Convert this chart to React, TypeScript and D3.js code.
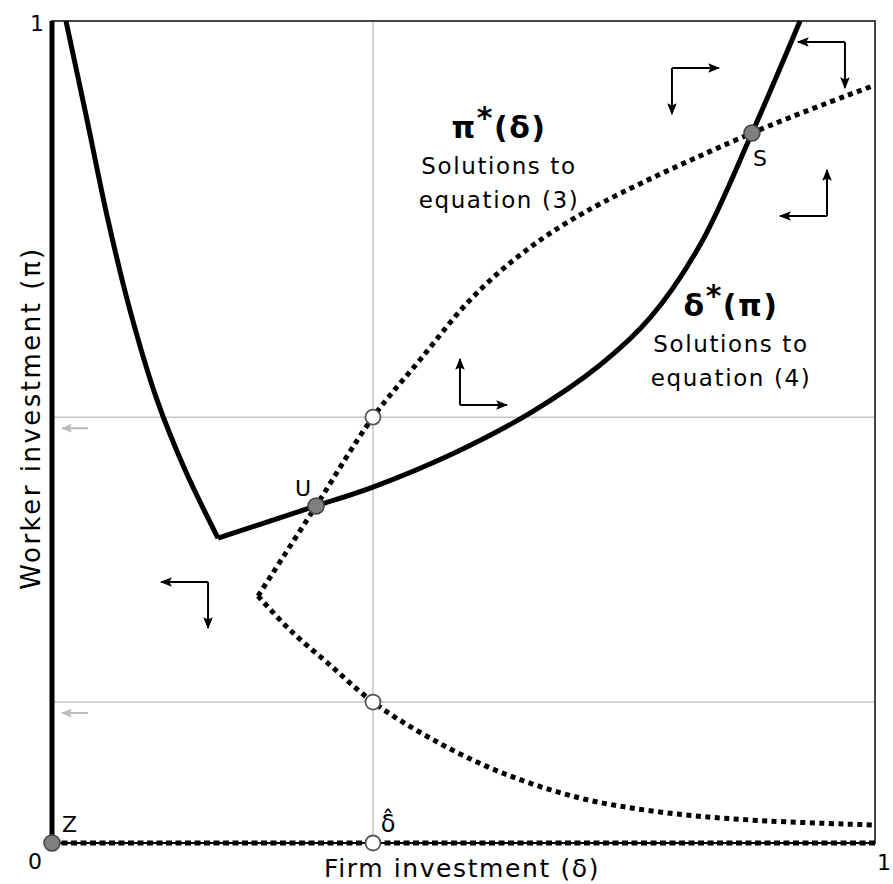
import React, { useRef, useEffect } from 'react'
import * as d3 from 'd3'

// curve points, [firm investment δ, worker investment π]
const deltaStarLeft: [number, number][] = [
  [0.017, 1.0], [0.0425, 0.88], [0.068, 0.758], [0.0948, 0.648],
  [0.1276, 0.539], [0.1616, 0.454], [0.2017, 0.371],
]
const deltaStarRight: [number, number][] = [
  [0.2017, 0.371], [0.3208, 0.41], [0.39, 0.433], [0.4836, 0.472],
  [0.5808, 0.523], [0.6659, 0.5815], [0.7266, 0.6387], [0.7874, 0.7275],
  [0.8505, 0.8637], [0.9089, 1.0],
]
const piStarUpper: [number, number][] = [
  [0.2503, 0.3005], [0.3208, 0.41], [0.39, 0.518], [0.447, 0.5876],
  [0.508, 0.6606], [0.5687, 0.7153], [0.6476, 0.7676],
  [0.8505, 0.8637], [1.0, 0.922],
]
const piStarLower: [number, number][] = [
  [0.2503, 0.3005], [0.2892, 0.2591], [0.3378, 0.2165], [0.39, 0.1715],
  [0.4593, 0.1277], [0.5443, 0.0864], [0.6416, 0.0547], [0.7388, 0.0377],
  [0.8481, 0.028], [1.0, 0.0219],
]

const deltaHat = 0.39
const gridPi = [0.518, 0.1715]

const stablePoints = [
  { name: 'Z', x: 0, y: 0 },
  { name: 'U', x: 0.3208, y: 0.41 },
  { name: 'S', x: 0.8505, y: 0.8637 },
]
const openPoints = [
  { x: deltaHat, y: 0.518 },
  { x: deltaHat, y: 0.1715 },
  { x: deltaHat, y: 0 },
]

// direction arrows: corner, horizontal sign, vertical sign (+1 = up)
const flowArrows = [
  { x: 0.7533, y: 0.9428, h: 1, v: -1 },
  { x: 0.9635, y: 0.9745, h: -1, v: -1 },
  { x: 0.9417, y: 0.7628, h: -1, v: 1 },
  { x: 0.4957, y: 0.5328, h: 1, v: 1 },
  { x: 0.1896, y: 0.3175, h: -1, v: -1 },
]

const W = 893
const H = 884
const font = 'DejaVu Sans, Verdana, sans-serif'

export default function App() {
  const svgRef = useRef<SVGSVGElement>(null)

  useEffect(() => {
    const svg = d3.select(svgRef.current)
    svg.selectAll('*').remove()

    const x = d3.scaleLinear().domain([0, 1]).range([52, 875])
    const y = d3.scaleLinear().domain([0, 1]).range([843, 21])

    const defs = svg.append('defs')
    const mk = (id: string, color: string, size: number) =>
      defs.append('marker')
        .attr('id', id)
        .attr('viewBox', '0 0 10 10')
        .attr('refX', 9).attr('refY', 5)
        .attr('markerWidth', size).attr('markerHeight', size)
        .attr('markerUnits', 'userSpaceOnUse')
        .attr('orient', 'auto')
        .append('path').attr('d', 'M0,1 L10,5 L0,9 L2,5 Z').attr('fill', color)
    mk('head', '#000', 12)
    mk('headGray', '#bbb', 11)

    // grid
    svg.append('line')
      .attr('x1', x(deltaHat)).attr('x2', x(deltaHat))
      .attr('y1', y(1)).attr('y2', y(0))
      .attr('stroke', '#c4c4c4').attr('stroke-width', 1.5)
    svg.selectAll('.gridH').data(gridPi).join('line')
      .attr('x1', x(0)).attr('x2', x(1))
      .attr('y1', (d) => y(d)).attr('y2', (d) => y(d))
      .attr('stroke', '#c4c4c4').attr('stroke-width', 1.5)

    // small gray arrows below grid lines
    svg.selectAll('.grayArrow').data(gridPi).join('line')
      .attr('x1', x(0) + 36).attr('x2', x(0) + 10)
      .attr('y1', (d) => y(d) + 11).attr('y2', (d) => y(d) + 11)
      .attr('stroke', '#bbb').attr('stroke-width', 2)
      .attr('marker-end', 'url(#headGray)')

    // frame
    svg.append('rect')
      .attr('x', x(0)).attr('y', y(1))
      .attr('width', x(1) - x(0)).attr('height', y(0) - y(1))
      .attr('fill', 'none').attr('stroke', '#444').attr('stroke-width', 2)

    const line = d3.line<[number, number]>()
      .x((d) => x(d[0])).y((d) => y(d[1]))
      .curve(d3.curveCatmullRom.alpha(0.5))

    // δ*(π) solid
    ;[deltaStarLeft, deltaStarRight].forEach((pts) => {
      svg.append('path').attr('d', line(pts))
        .attr('fill', 'none').attr('stroke', '#000').attr('stroke-width', 5)
    })
    // π*(δ) dotted
    ;[piStarUpper, piStarLower].forEach((pts) => {
      svg.append('path').attr('d', line(pts))
        .attr('fill', 'none').attr('stroke', '#000').attr('stroke-width', 5)
        .attr('stroke-dasharray', '5 4.5')
    })

    // axes: left solid (δ=0), bottom dotted over thin line (π=0)
    svg.append('line')
      .attr('x1', x(0)).attr('x2', x(0)).attr('y1', y(1)).attr('y2', y(0))
      .attr('stroke', '#000').attr('stroke-width', 5)
    svg.append('line')
      .attr('x1', x(0)).attr('x2', x(1)).attr('y1', y(0)).attr('y2', y(0))
      .attr('stroke', '#000').attr('stroke-width', 2)
    svg.append('line')
      .attr('x1', x(0)).attr('x2', x(1)).attr('y1', y(0)).attr('y2', y(0))
      .attr('stroke', '#000').attr('stroke-width', 5)
      .attr('stroke-dasharray', '6 3.5')

    // flow arrows
    const g = svg.append('g')
    flowArrows.forEach((a) => {
      const cx = x(a.x), cy = y(a.y)
      g.append('line').attr('x1', cx).attr('y1', cy).attr('x2', cx + a.h * 47).attr('y2', cy)
        .attr('stroke', '#000').attr('stroke-width', 2).attr('marker-end', 'url(#head)')
      g.append('line').attr('x1', cx).attr('y1', cy).attr('x2', cx).attr('y2', cy - a.v * 46)
        .attr('stroke', '#000').attr('stroke-width', 2).attr('marker-end', 'url(#head)')
    })

    // points
    svg.selectAll('.open').data(openPoints).join('circle')
      .attr('cx', (d) => x(d.x)).attr('cy', (d) => y(d.y)).attr('r', 7.5)
      .attr('fill', '#fff').attr('stroke', '#555').attr('stroke-width', 1.8)
    svg.selectAll('.stable').data(stablePoints).join('circle')
      .attr('cx', (d) => x(d.x)).attr('cy', (d) => y(d.y)).attr('r', 8)
      .attr('fill', '#7f7f7f').attr('stroke', '#444').attr('stroke-width', 1.5)

    const txt = (tx: number, ty: number, s: string, size: number, anchor = 'middle', ls = 0) =>
      svg.append('text').attr('x', tx).attr('y', ty).text(s)
        .attr('font-family', font).attr('font-size', size)
        .attr('letter-spacing', ls)
        .attr('text-anchor', anchor).attr('fill', '#000')

    // point labels
    txt(x(0) + 10, y(0) - 11, 'Z', 22, 'start')
    txt(x(0.3208) - 13, y(0.41) - 10, 'U', 22)
    txt(x(0.8505) + 1, y(0.8637) + 33, 'S', 22, 'start')
    txt(x(deltaHat) + 15, y(0) - 11, 'δ̂', 24)

    // tick labels
    txt(37, 31, '1', 22)
    txt(35, 869, '0', 22)
    txt(884, 870, '1', 22)

    // curve labels
    const label = (cx: number, by: number, sym: string, arg: string, eq: string) => {
      const t = svg.append('text').attr('x', cx).attr('y', by)
        .attr('font-family', font).attr('font-size', 30).attr('font-weight', 'bold')
        .attr('letter-spacing', 1.5)
        .attr('text-anchor', 'middle')
      t.append('tspan').text(sym)
      t.append('tspan').text('*').attr('dy', -10)
      t.append('tspan').text(arg).attr('dy', 10)
      txt(cx, by + 36, 'Solutions to', 23, 'middle', 1.6)
      txt(cx, by + 70, eq, 23, 'middle', 1.6)
    }
    label(499, 138, 'π', '(δ)', 'equation (3)')
    label(731, 316, 'δ', '(π)', 'equation (4)')

    // axis titles
    txt(462, 877, 'Firm investment (δ)', 25, 'middle', 1.6)
    svg.append('text')
      .attr('transform', `translate(40,418) rotate(-90)`)
      .attr('text-anchor', 'middle')
      .attr('font-family', font).attr('font-size', 26)
      .attr('letter-spacing', 2.5)
      .text('Worker investment (π)')
  }, [])

  return (
    <svg ref={svgRef} width={W} height={H}
      style={{ position: 'absolute', left: 0, top: 0, background: '#fff' }} />
  )
}
